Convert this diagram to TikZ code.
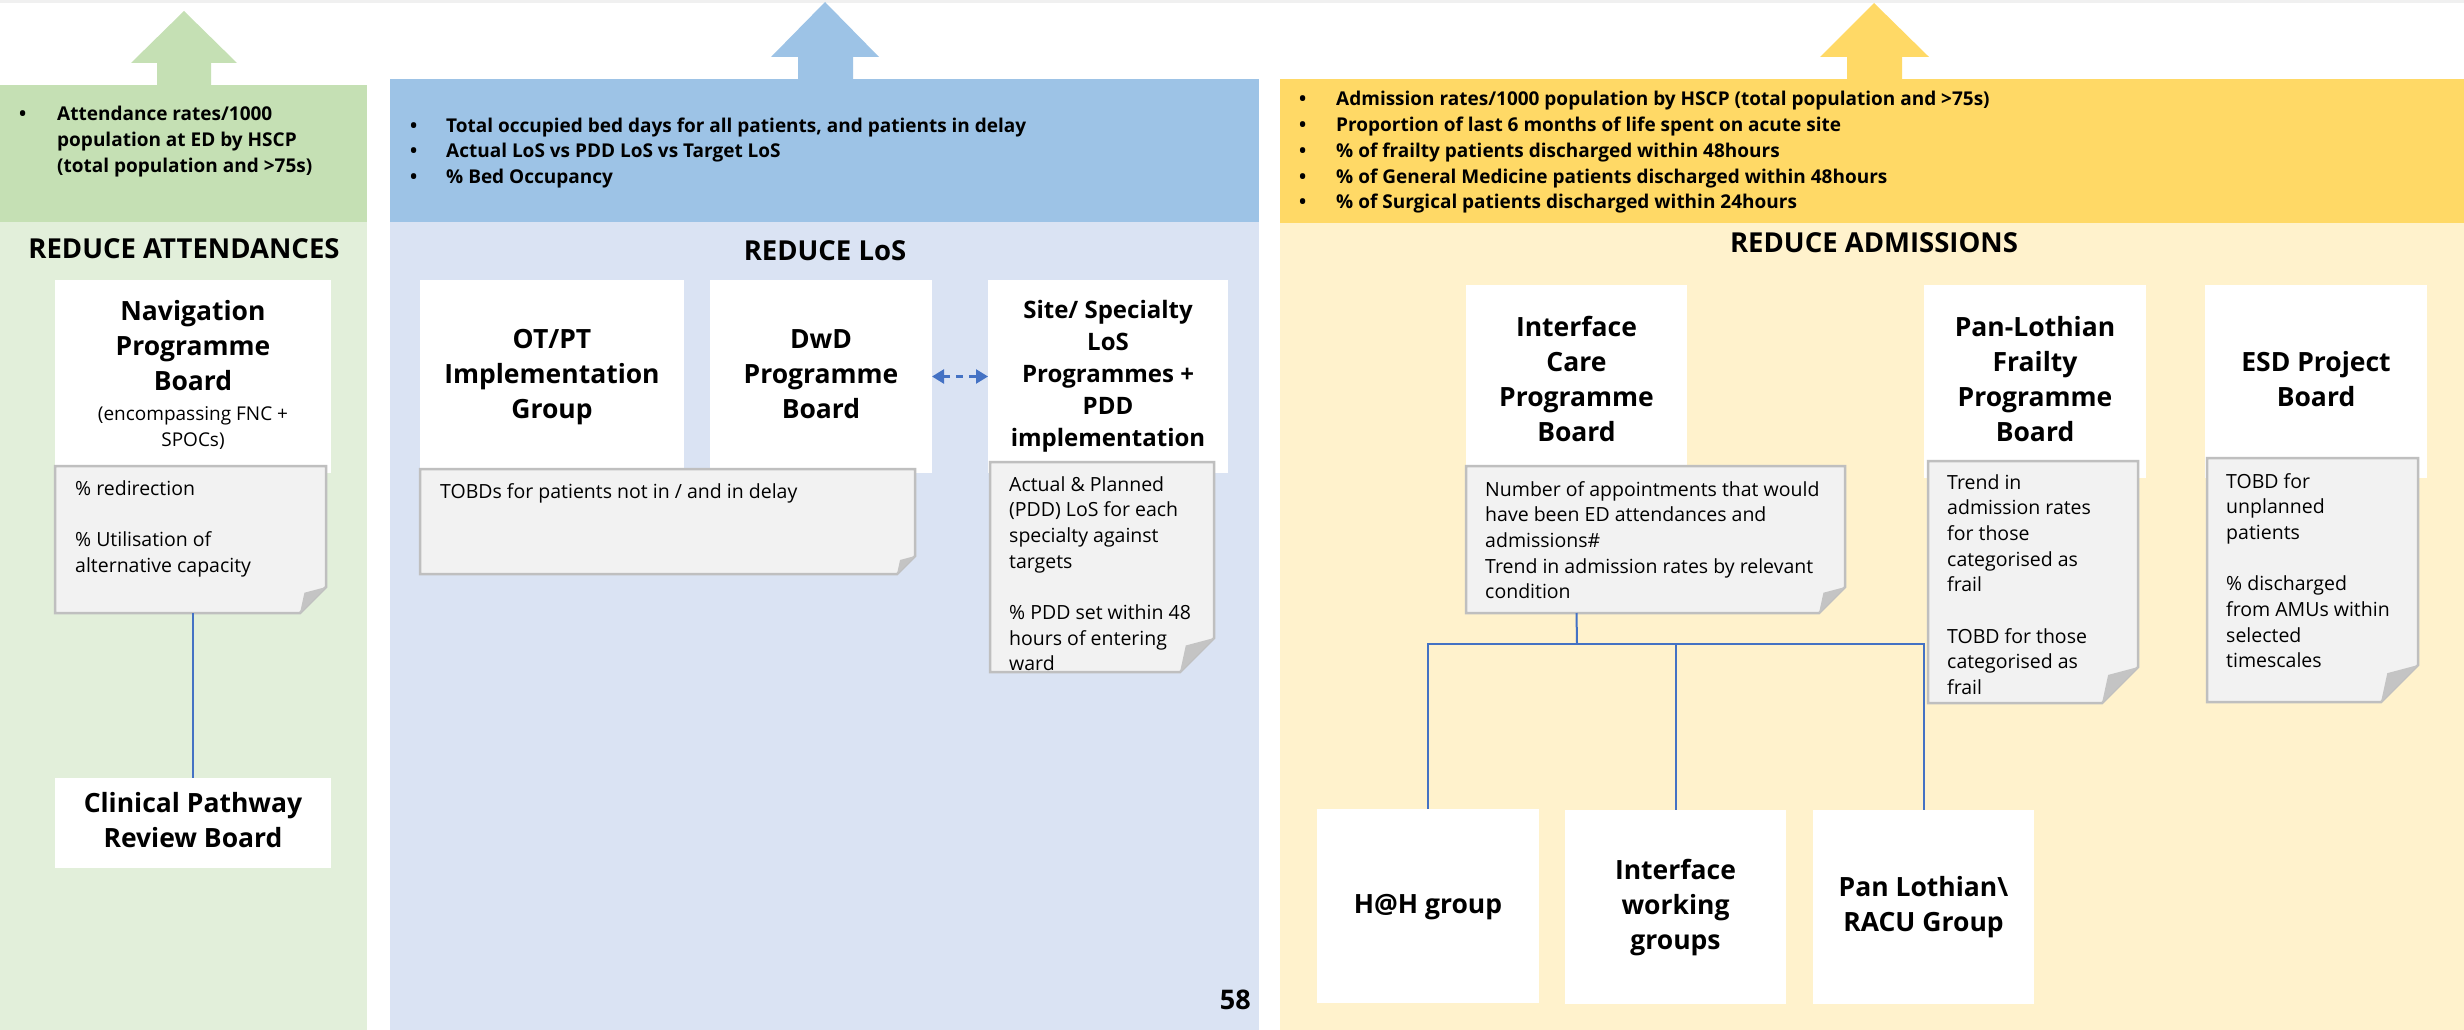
\documentclass[tikz,border=0pt]{standalone}
\usepackage{fontspec}
\setmainfont{Open Sans}
\usetikzlibrary{arrows.meta}
\definecolor{gHead}{HTML}{C5E0B4}
\definecolor{gBody}{HTML}{E2EFDA}
\definecolor{bHead}{HTML}{9DC3E6}
\definecolor{bBody}{HTML}{DAE3F3}
\definecolor{yHead}{HTML}{FFD966}
\definecolor{yBody}{HTML}{FFF2CC}
\definecolor{noteFill}{HTML}{F2F2F2}
\definecolor{noteLine}{HTML}{BFBFBF}
\definecolor{foldCol}{HTML}{C4C4C4}
\definecolor{linkBlue}{HTML}{4472C4}
\definecolor{topStrip}{HTML}{F0F0F0}
\newcommand{\titlefont}{\fontsize{26.5}{35}\selectfont\bfseries}
\newcommand{\sitefont}{\fontsize{24}{32}\selectfont\bfseries}
\newcommand{\subfont}{\fontsize{19}{26}\selectfont\mdseries}
\newcommand{\notefont}{\fontsize{19.5}{25.7}\selectfont}
\newcommand{\headfont}{\fontsize{19}{25.7}\selectfont\bfseries}
\newcommand{\reducefont}{\fontsize{27.5}{33}\selectfont\bfseries}
\newcommand{\pagefont}{\fontsize{27}{33}\selectfont\bfseries}
\newcommand{\cstack}[1]{\begin{tabular}{@{}c@{}}#1\end{tabular}}
\newcommand{\lstack}[1]{\begin{tabular}[t]{@{}l@{}}#1\end{tabular}}
\newcommand{\bstack}[2]{\begin{tabular}[t]{@{}l@{}l@{}}#2\end{tabular}}
\newcommand{\bul}[1]{\makebox[#1][l]{\textbullet}}
\tikzset{
  tbox/.style={fill=white, draw=none, inner sep=0pt, outer sep=0pt, align=center, font=\titlefont},
  notebase/.style={draw=none, inner sep=0pt, outer sep=0pt},
  notepaper/.style={fill=noteFill, draw=noteLine, line width=2.5pt, line join=miter},
  notetext/.style={anchor=base west, inner sep=0pt, font=\notefont},
  headtext/.style={anchor=base west, inner sep=0pt, font=\headfont},
  reducetext/.style={anchor=center, inner sep=0pt, font=\reducefont},
  link/.style={draw=linkBlue, line width=2pt},
  dasharrow/.style={draw=linkBlue, line width=2.5pt, dash pattern=on 7pt off 6pt,
    {Triangle[length=12pt,width=14pt]}-{Triangle[length=12pt,width=14pt]}}
}
\newcommand{\foldnote}[6]{%
  \node[notebase, minimum width=#4pt, minimum height=#5pt, anchor=north west] (#1) at (#2,#3) {};
  \filldraw[notepaper] (#1.north west) -- (#1.north east) -- ([yshift=#6pt]#1.south east)
     -- ([xshift=-#6pt]#1.south east) -- (#1.south west) -- cycle;
  \fill[foldCol] ([yshift=#6pt]#1.south east) -- ([xshift={-0.83*#6pt}, yshift={0.78*#6pt}]#1.south east)
     -- ([xshift=-#6pt]#1.south east) -- cycle;
}
\begin{document}
\begin{tikzpicture}[x=1pt,y=-1pt]
\useasboundingbox (0,0) rectangle (2464,1030);
\fill[white] (0,0) rectangle (2464,1030);
\fill[topStrip] (0,0) rectangle (2464,3);
% ---------------- green panel
\fill[gBody] (0,85) rectangle (367,1030);
\fill[gHead] (0,85) rectangle (367,222);
\fill[gHead] (157,86) -- (157,63) -- (131,63) -- (184,11) -- (237,63) -- (211,63) -- (211,86) -- cycle;
% ---------------- blue panel
\fill[bBody] (390,79) rectangle (1259,1030);
\fill[bHead] (390,79) rectangle (1259,222);
\fill[bHead] (798,80) -- (798,57) -- (771,57) -- (825,2) -- (879,57) -- (853,57) -- (853,80) -- cycle;
% ---------------- yellow panel
\fill[yBody] (1280,79) rectangle (2464,1030);
\fill[yHead] (1280,79) rectangle (2464,223);
\fill[yHead] (1847,80) -- (1847,57) -- (1820,57) -- (1874,3) -- (1929,57) -- (1902,57) -- (1902,80) -- cycle;
% ---------------- header texts
\node[headtext] (ghead) at (19,121) {\bstack{}{\bul{38pt} & Attendance rates/1000\\ & population at ED by HSCP\\ & (total population and >75s)}};
\node[headtext] (bhead) at (410,132) {\bstack{}{\bul{36pt} & Total occupied bed days for all patients, and patients in delay\\ \bul{36pt} & Actual LoS vs PDD LoS vs Target LoS\\ \bul{36pt} & \% Bed Occupancy}};
\node[headtext] (yhead) at (1299,106) {\bstack{}{\bul{37pt} & Admission rates/1000 population by HSCP (total population and >75s)\\ \bul{37pt} & Proportion of last 6 months of life spent on acute site\\ \bul{37pt} & \% of frailty patients discharged within 48hours\\ \bul{37pt} & \% of General Medicine patients discharged within 48hours\\ \bul{37pt} & \% of Surgical patients discharged within 24hours}};
\node[reducetext] (gtitle) at (184,249) {REDUCE ATTENDANCES};
\node[reducetext] (btitle) at (825,250.5) {REDUCE LoS};
\node[reducetext] (ytitle) at (1874,243) {REDUCE ADMISSIONS};
% ---------------- attendances column
\node[tbox, minimum width=276pt, minimum height=193pt] (nav) at (193,376.5) {\cstack{Navigation\\Programme\\Board\\[-5pt]\subfont (encompassing FNC +\\[-9pt]\subfont SPOCs)}};
\node[tbox, minimum width=276pt, minimum height=90pt] (cpr) at (193,823) {\cstack{Clinical Pathway\\Review Board}};
\foldnote{nnav}{55}{466}{271}{147}{26}
\node[notetext] (nnavt) at (75,495) {\lstack{\% redirection\\ \\ \% Utilisation of\\ alternative capacity}};
\draw[link] (nav.center |- nnav.south) -- (cpr.north);
% ---------------- LoS column
\node[tbox, minimum width=264pt, minimum height=193pt] (otpt) at (552,376.5) {\cstack{OT/PT\\Implementation\\Group}};
\node[tbox, minimum width=222pt, minimum height=193pt] (dwd) at (821,376.5) {\cstack{DwD\\Programme\\Board}};
\node[tbox, font=\sitefont, minimum width=240pt, minimum height=193pt] (site) at (1108,376.5) {\cstack{Site/ Specialty\\LoS\\Programmes +\\PDD\\implementation}};
\draw[dasharrow] (dwd.east) -- (site.west);
\foldnote{notpt}{420}{469}{495}{105}{18}
\node[notetext] (notptt) at (440,498) {\lstack{TOBDs for patients not in / and in delay}};
\foldnote{nsite}{990}{462}{224}{210}{34}
\node[notetext] (nsitet) at (1009,491) {\lstack{Actual \& Planned\\ (PDD) LoS for each\\ specialty against\\ targets\\ \\ \% PDD set within 48\\ hours of entering\\ ward}};
\node[anchor=east, inner sep=0pt, font=\pagefont] (pnum) at (1251,1000) {58};
% ---------------- admissions column
\node[tbox, minimum width=221pt, minimum height=193pt] (icb) at (1576.5,381.5) {\cstack{Interface\\Care\\Programme\\Board}};
\node[tbox, minimum width=222pt, minimum height=193pt] (pfb) at (2035,381.5) {\cstack{Pan-Lothian\\Frailty\\Programme\\Board}};
\node[tbox, minimum width=222pt, minimum height=193pt] (esd) at (2316,381.5) {\cstack{ESD Project\\Board}};
\foldnote{nic}{1466}{466}{379}{147}{26}
\node[notetext] (nict) at (1485,496) {\lstack{Number of appointments that would\\ have been ED attendances and\\ admissions\#\\ Trend in admission rates by relevant\\ condition}};
\foldnote{npf}{1928}{461}{210}{242}{36}
\node[notetext] (npft) at (1947,489) {\lstack{Trend in\\ admission rates\\ for those\\ categorised as\\ frail\\ \\ TOBD for those\\ categorised as\\ frail}};
\foldnote{nesd}{2207}{458}{211}{244}{37}
\node[notetext] (nesdt) at (2226,488) {\lstack{TOBD for\\ unplanned\\ patients\\ \\ \% discharged\\ from AMUs within\\ selected\\ timescales}};
\node[tbox, minimum width=222pt, minimum height=194pt] (hah) at (1428,906) {\cstack{H@H group}};
\node[tbox, minimum width=221pt, minimum height=194pt] (iwg) at (1675.5,907) {\cstack{Interface\\working\\groups}};
\node[tbox, minimum width=221pt, minimum height=194pt] (racu) at (1923.5,907) {\cstack{Pan Lothian\textbackslash\\RACU Group}};
\coordinate (bus) at (1577,644);
\draw[link] (icb.center |- nic.south) -- (bus);
\draw[link] (bus) -| (hah.north);
\draw[link] (bus) -| (iwg.north);
\draw[link] (bus) -| (racu.north);
\end{tikzpicture}
\end{document}
